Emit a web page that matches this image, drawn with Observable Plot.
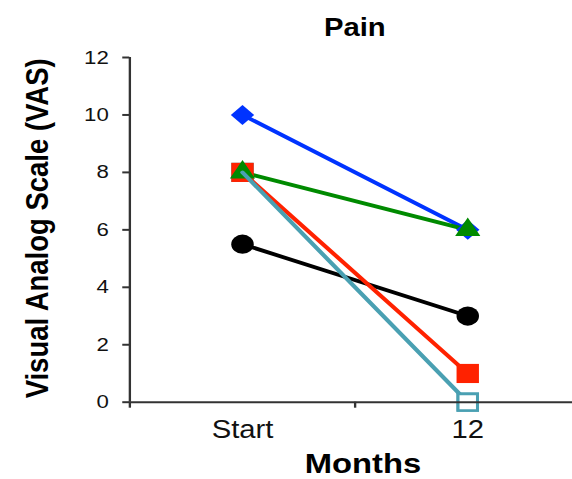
<!DOCTYPE html>
<html>
<head>
<meta charset="utf-8">
<script src="https://cdn.jsdelivr.net/npm/d3@7"></script>
<script src="https://cdn.jsdelivr.net/npm/@observablehq/plot@0.6"></script>
<style>
  html, body { margin: 0; padding: 0; background: #fff; overflow: hidden; }
  #chart svg { transform: scaleX(1.17); transform-origin: 0 0; display: block; }
</style>
</head>
<body>
<div id="chart"></div>
<script>
// ---- data ----
const months = ["Start", "12"];
const seriesNames = ["Series 1", "Series 2", "Series 3", "Series 4", "Series 5"];
const startValues = [5.5, 10, 8, 8, 8];
const month12Values = [3, 6, 1, 6, 0];
const seriesColors = ["#000000", "#0033ff", "#ff2200", "#008a00", "#4aa0b2"];
const seriesSymbols = ["circle", "diamond2", "square", "triangle", "square"];
const yTicks = [0, 2, 4, 6, 8, 10, 12];
const title = "Pain";
const yLabel = "Visual Analog Scale (VAS)";
const xLabel = "Months";

// ---- table ----
const rows = [];
seriesNames.forEach((name, i) => {
  [startValues[i], month12Values[i]].forEach((v, j) => {
    rows.push({series: name, idx: i, month: months[j], pos: j + 0.5, value: v});
  });
});
const bySeries = i => rows.filter(d => d.idx === i);

const symbolR = {circle: 9.6, diamond2: 9, square: 10.8, triangle: 8};

const lineMark = i => Plot.line(bySeries(i), {
  x: "pos", y: "value", stroke: seriesColors[i], strokeWidth: 3.8
});
const dotMark = (i, data) => Plot.dot(data || bySeries(i), {
  x: "pos", y: "value", symbol: seriesSymbols[i], r: symbolR[seriesSymbols[i]],
  fill: seriesColors[i], stroke: "none"
});
const openDot = data => Plot.dot(data, {
  x: "pos", y: "value", symbol: "square", r: 9.4,
  fill: "white", stroke: seriesColors[4], strokeWidth: 2.6
});

const chart = Plot.plot({
  width: 489,
  height: 479,
  marginLeft: 110.5,
  marginRight: 0,
  marginTop: 57,
  marginBottom: 77.3,
  style: {fontFamily: "'Liberation Sans', Arial, sans-serif", background: "white", overflow: "visible"},
  x: {domain: [0, 1.966]},
  y: {domain: [0, 12]},
  marks: [
    // teal markers underneath everything
    openDot(bySeries(4)),
    // lines
    lineMark(0), lineMark(1), lineMark(2), lineMark(3),
    // markers
    dotMark(1), dotMark(0), dotMark(2), dotMark(3),
    // teal line on top, then its end marker
    lineMark(4),
    openDot(bySeries(4).filter(d => d.month === months[1])),
    // axes
    Plot.ruleY([0], {stroke: "#333", strokeWidth: 2}),
    Plot.ruleX([0], {y1: 0, y2: 12, stroke: "#333", strokeWidth: 2}),
    Plot.axisY({ticks: yTicks, tickSize: 6, tickPadding: 12, fontSize: 19, stroke: "#333", strokeWidth: 2, label: null, fill: "#111"}),
    Plot.axisX({ticks: [0, 1], tickSize: 6, tickFormat: () => "", stroke: "#333", strokeWidth: 2, label: null}),
    Plot.axisX({ticks: months.map((m, j) => j + 0.5), tickSize: 0, tickPadding: 18, fontSize: 25,
      tickFormat: d => months[Math.floor(d)], label: null, fill: "#111"}),
    // titles
    Plot.text([title], {text: d => d, frameAnchor: "top", lineAnchor: "middle", textAnchor: "middle",
      dy: -29.5, dx: 3, fontSize: 25, fontWeight: "bold", fill: "#000"}),
    Plot.text([yLabel], {text: d => d, frameAnchor: "left", lineAnchor: "middle", textAnchor: "middle",
      rotate: -90, dx: -79, dy: -1.5, fontSize: 27.5, fontWeight: "bold", fill: "#000"}),
    Plot.text([xLabel], {text: d => d, frameAnchor: "bottom", lineAnchor: "middle", textAnchor: "middle",
      dy: 61.5, dx: 10, fontSize: 28, fontWeight: "bold", fill: "#000"})
  ]
});
document.getElementById("chart").appendChild(chart);
</script>
</body>
</html>
